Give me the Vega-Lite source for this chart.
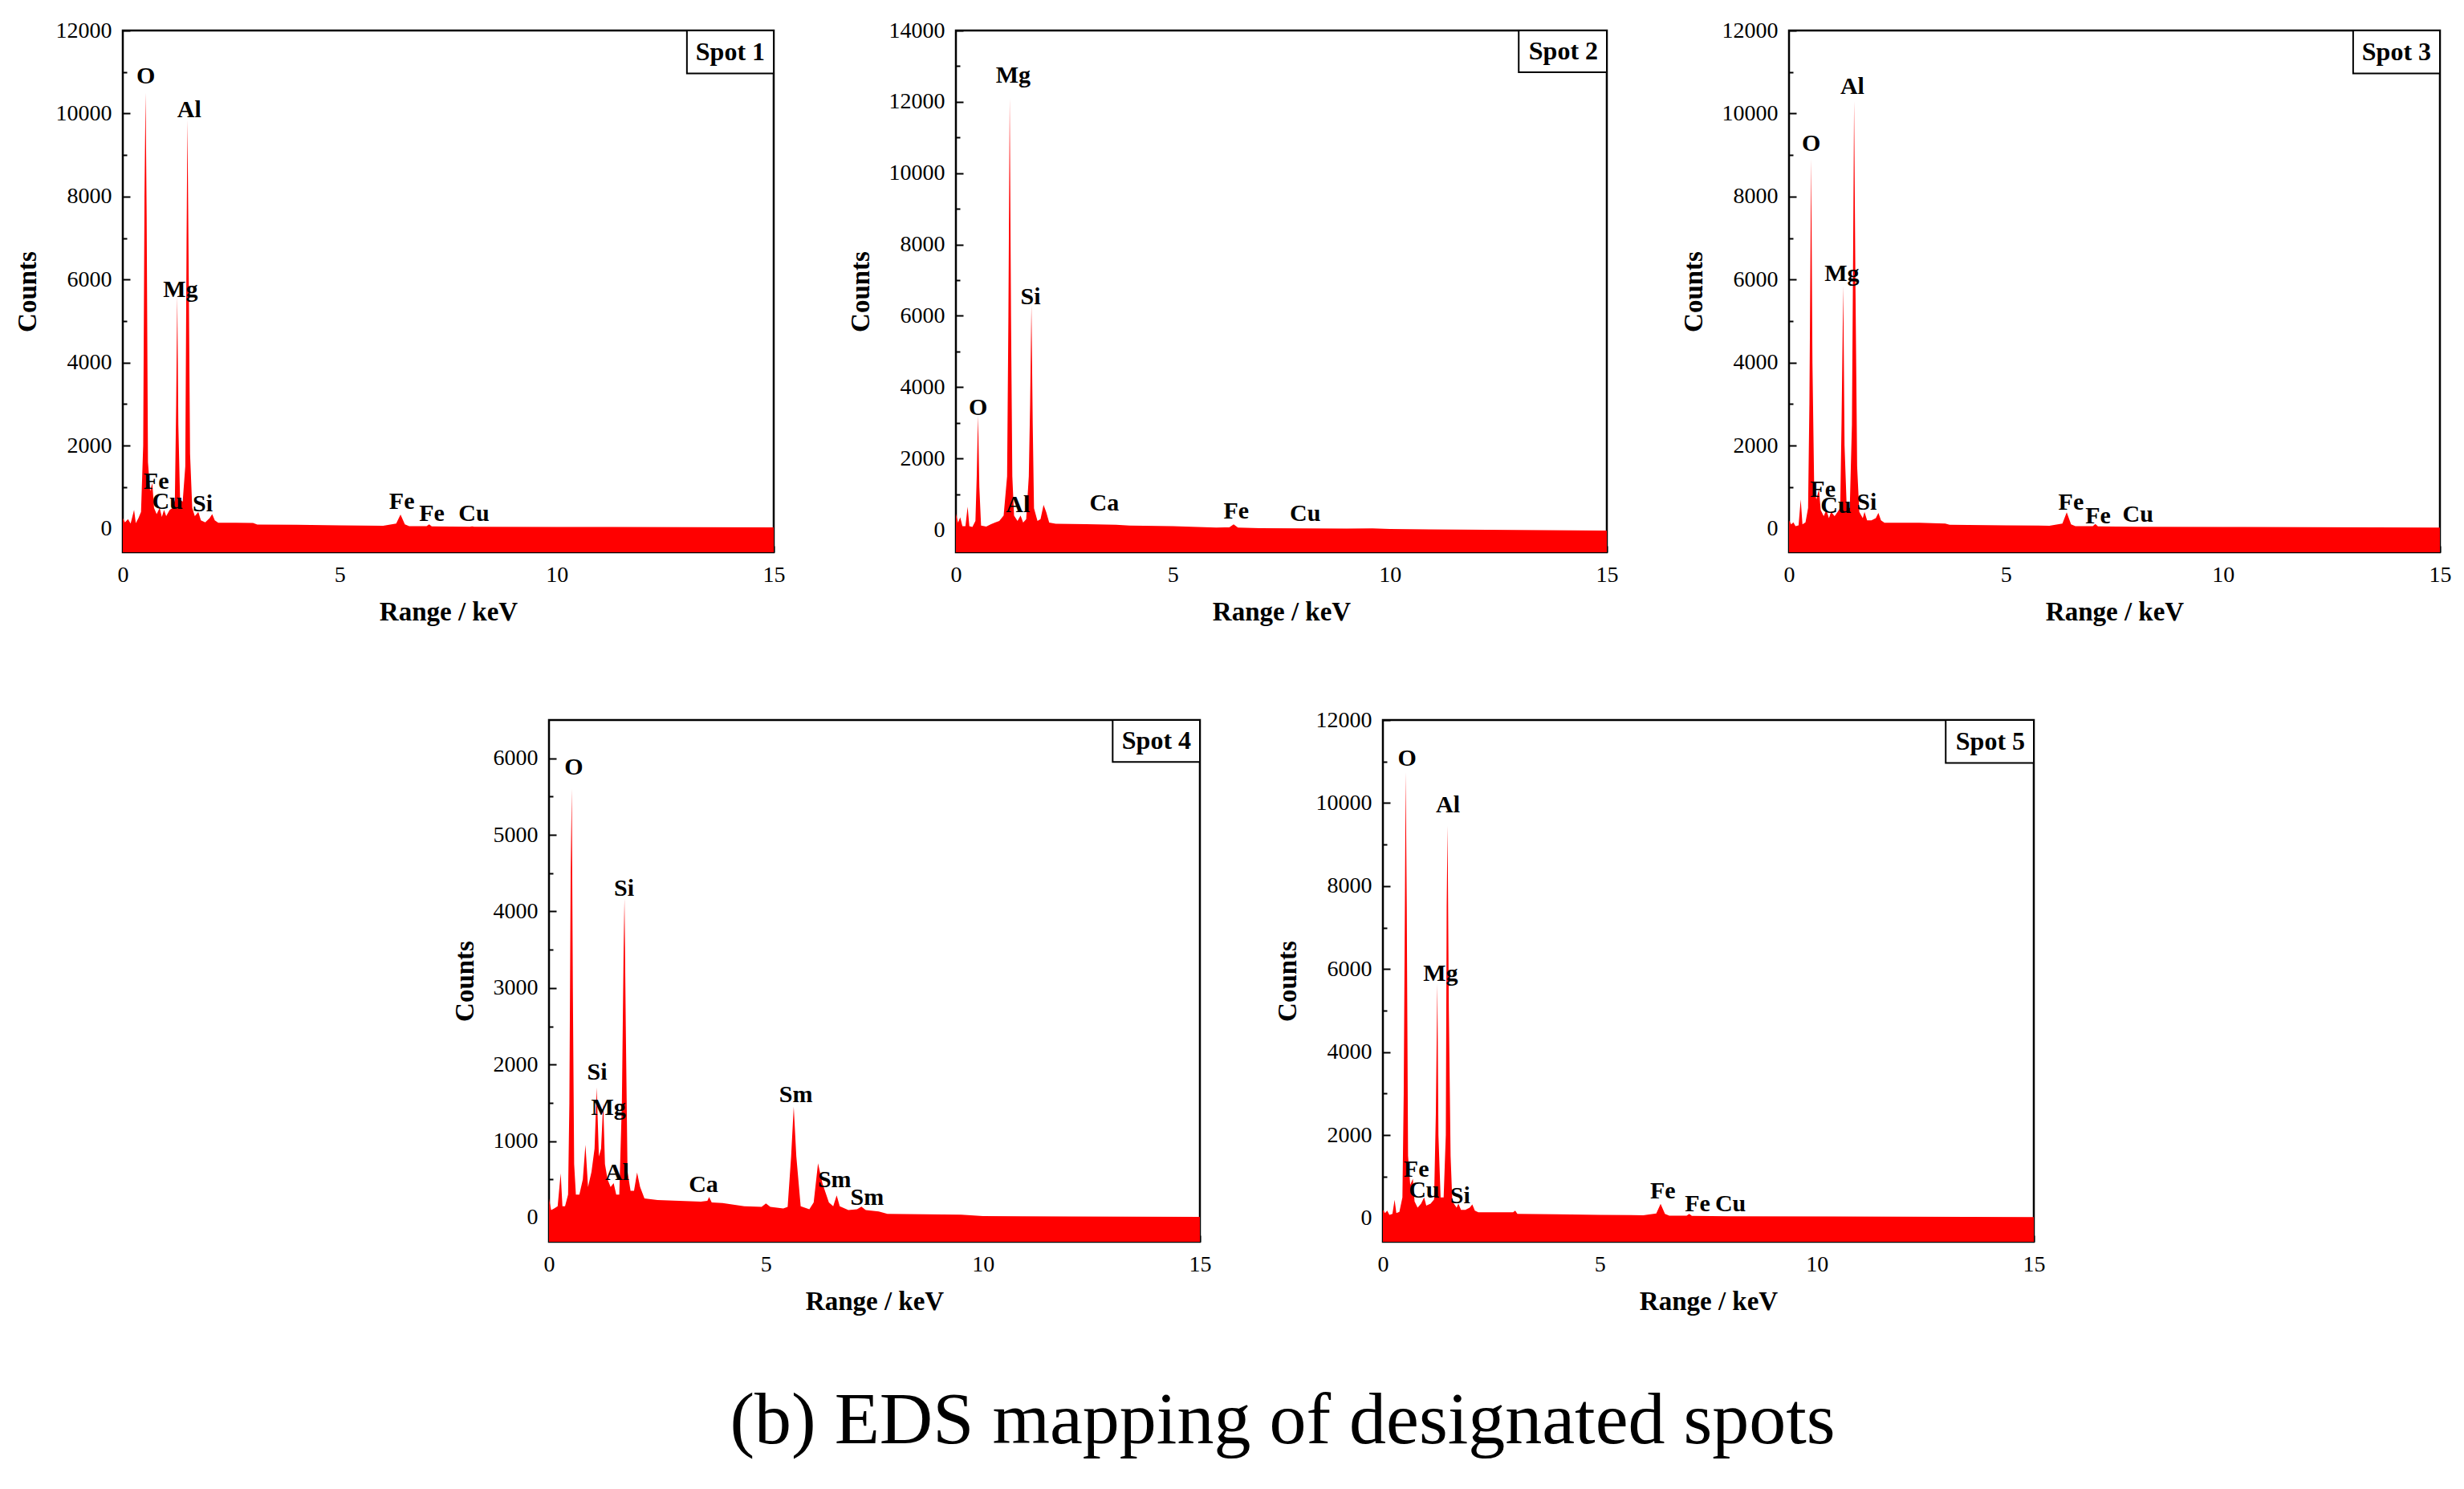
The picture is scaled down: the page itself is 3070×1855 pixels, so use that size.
{
"$schema": "https://vega.github.io/schema/vega-lite/v6.json",
"background": "white",
"padding": {"left": 16, "top": 22, "right": 10, "bottom": 10},
"autosize": {"type": "pad"},
"config": {
  "view": {"stroke": "black", "strokeWidth": 2.5},
  "axis": {"labelFont": "Liberation Serif", "labelFontSize": 28, "labelColor": "black", "titleFont": "Liberation Serif", "titleFontSize": 33, "titleFontWeight": "bold", "titleColor": "black", "grid": false, "domain": false, "tickColor": "black", "tickWidth": 2},
  "text": {"font": "Liberation Serif", "fontWeight": "bold", "color": "black", "fontSize": 30}
},
"title": {"text": "(b) EDS mapping of designated spots", "orient": "bottom", "anchor": "middle", "font": "Liberation Serif", "fontSize": 92, "fontWeight": "normal", "color": "black", "offset": 86, "dx": 62},
"datasets": {
"spectra": [
{"spot":1,"keV":0,"counts":250},{"spot":1,"keV":0.05,"counts":150},{"spot":1,"keV":0.12,"counts":230},{"spot":1,"keV":0.18,"counts":120},{"spot":1,"keV":0.26,"counts":450},{"spot":1,"keV":0.3,"counts":130},{"spot":1,"keV":0.36,"counts":250},{"spot":1,"keV":0.42,"counts":400},{"spot":1,"keV":0.47,"counts":2000},{"spot":1,"keV":0.5,"counts":8000},{"spot":1,"keV":0.525,"counts":10500},{"spot":1,"keV":0.55,"counts":7500},{"spot":1,"keV":0.58,"counts":1600},{"spot":1,"keV":0.63,"counts":900},{"spot":1,"keV":0.68,"counts":1100},{"spot":1,"keV":0.72,"counts":500},{"spot":1,"keV":0.78,"counts":350},{"spot":1,"keV":0.85,"counts":500},{"spot":1,"keV":0.9,"counts":280},{"spot":1,"keV":0.95,"counts":450},{"spot":1,"keV":1.0,"counts":300},{"spot":1,"keV":1.08,"counts":450},{"spot":1,"keV":1.15,"counts":500},{"spot":1,"keV":1.2,"counts":700},{"spot":1,"keV":1.23,"counts":3000},{"spot":1,"keV":1.255,"counts":5600},{"spot":1,"keV":1.28,"counts":2500},{"spot":1,"keV":1.32,"counts":700},{"spot":1,"keV":1.38,"counts":650},{"spot":1,"keV":1.44,"counts":1500},{"spot":1,"keV":1.47,"counts":7000},{"spot":1,"keV":1.49,"counts":9850},{"spot":1,"keV":1.52,"counts":6000},{"spot":1,"keV":1.55,"counts":1800},{"spot":1,"keV":1.6,"counts":500},{"spot":1,"keV":1.66,"counts":300},{"spot":1,"keV":1.74,"counts":400},{"spot":1,"keV":1.8,"counts":200},{"spot":1,"keV":1.9,"counts":150},{"spot":1,"keV":2.0,"counts":250},{"spot":1,"keV":2.06,"counts":350},{"spot":1,"keV":2.12,"counts":200},{"spot":1,"keV":2.2,"counts":140},{"spot":1,"keV":2.6,"counts":140},{"spot":1,"keV":3.0,"counts":135},{"spot":1,"keV":3.1,"counts":95},{"spot":1,"keV":4.0,"counts":90},{"spot":1,"keV":5.0,"counts":80},{"spot":1,"keV":6.0,"counts":70},{"spot":1,"keV":6.3,"counts":120},{"spot":1,"keV":6.4,"counts":340},{"spot":1,"keV":6.5,"counts":100},{"spot":1,"keV":6.6,"counts":60},{"spot":1,"keV":7.0,"counts":60},{"spot":1,"keV":7.06,"counts":100},{"spot":1,"keV":7.12,"counts":55},{"spot":1,"keV":8.0,"counts":45},{"spot":1,"keV":8.05,"counts":55},{"spot":1,"keV":8.1,"counts":45},{"spot":1,"keV":10,"counts":40},{"spot":1,"keV":15,"counts":30},
{"spot":2,"keV":0,"counts":450},{"spot":2,"keV":0.05,"counts":200},{"spot":2,"keV":0.1,"counts":350},{"spot":2,"keV":0.15,"counts":100},{"spot":2,"keV":0.22,"counts":100},{"spot":2,"keV":0.27,"counts":650},{"spot":2,"keV":0.31,"counts":100},{"spot":2,"keV":0.38,"counts":80},{"spot":2,"keV":0.45,"counts":250},{"spot":2,"keV":0.48,"counts":1500},{"spot":2,"keV":0.51,"counts":3200},{"spot":2,"keV":0.54,"counts":1200},{"spot":2,"keV":0.58,"counts":120},{"spot":2,"keV":0.7,"counts":90},{"spot":2,"keV":0.8,"counts":150},{"spot":2,"keV":0.9,"counts":200},{"spot":2,"keV":1.0,"counts":250},{"spot":2,"keV":1.1,"counts":400},{"spot":2,"keV":1.18,"counts":1500},{"spot":2,"keV":1.21,"counts":6000},{"spot":2,"keV":1.24,"counts":12100},{"spot":2,"keV":1.27,"counts":6000},{"spot":2,"keV":1.3,"counts":1500},{"spot":2,"keV":1.34,"counts":400},{"spot":2,"keV":1.42,"counts":250},{"spot":2,"keV":1.49,"counts":400},{"spot":2,"keV":1.55,"counts":200},{"spot":2,"keV":1.62,"counts":300},{"spot":2,"keV":1.68,"counts":1500},{"spot":2,"keV":1.71,"counts":3500},{"spot":2,"keV":1.74,"counts":6300},{"spot":2,"keV":1.77,"counts":3000},{"spot":2,"keV":1.8,"counts":600},{"spot":2,"keV":1.88,"counts":250},{"spot":2,"keV":1.95,"counts":300},{"spot":2,"keV":2.02,"counts":700},{"spot":2,"keV":2.08,"counts":500},{"spot":2,"keV":2.15,"counts":200},{"spot":2,"keV":2.3,"counts":170},{"spot":2,"keV":3.0,"counts":160},{"spot":2,"keV":3.69,"counts":140},{"spot":2,"keV":4.0,"counts":120},{"spot":2,"keV":5.0,"counts":100},{"spot":2,"keV":6.0,"counts":60},{"spot":2,"keV":6.3,"counts":70},{"spot":2,"keV":6.4,"counts":150},{"spot":2,"keV":6.5,"counts":60},{"spot":2,"keV":7.0,"counts":45},{"spot":2,"keV":8.0,"counts":40},{"spot":2,"keV":9.0,"counts":35},{"spot":2,"keV":9.6,"counts":40},{"spot":2,"keV":10.0,"counts":20},{"spot":2,"keV":15,"counts":-20},
{"spot":3,"keV":0,"counts":200},{"spot":3,"keV":0.05,"counts":100},{"spot":3,"keV":0.1,"counts":150},{"spot":3,"keV":0.15,"counts":60},{"spot":3,"keV":0.22,"counts":80},{"spot":3,"keV":0.27,"counts":700},{"spot":3,"keV":0.31,"counts":100},{"spot":3,"keV":0.38,"counts":150},{"spot":3,"keV":0.44,"counts":500},{"spot":3,"keV":0.47,"counts":3000},{"spot":3,"keV":0.51,"counts":8900},{"spot":3,"keV":0.54,"counts":4000},{"spot":3,"keV":0.58,"counts":1000},{"spot":3,"keV":0.63,"counts":700},{"spot":3,"keV":0.69,"counts":950},{"spot":3,"keV":0.73,"counts":450},{"spot":3,"keV":0.8,"counts":300},{"spot":3,"keV":0.86,"counts":450},{"spot":3,"keV":0.92,"counts":250},{"spot":3,"keV":0.97,"counts":400},{"spot":3,"keV":1.05,"counts":300},{"spot":3,"keV":1.12,"counts":400},{"spot":3,"keV":1.18,"counts":500},{"spot":3,"keV":1.21,"counts":2500},{"spot":3,"keV":1.25,"counts":5850},{"spot":3,"keV":1.28,"counts":2000},{"spot":3,"keV":1.33,"counts":500},{"spot":3,"keV":1.4,"counts":500},{"spot":3,"keV":1.45,"counts":2500},{"spot":3,"keV":1.48,"counts":7000},{"spot":3,"keV":1.5,"counts":10300},{"spot":3,"keV":1.53,"counts":6000},{"spot":3,"keV":1.57,"counts":1500},{"spot":3,"keV":1.62,"counts":400},{"spot":3,"keV":1.7,"counts":250},{"spot":3,"keV":1.74,"counts":400},{"spot":3,"keV":1.8,"counts":200},{"spot":3,"keV":1.9,"counts":200},{"spot":3,"keV":2.0,"counts":250},{"spot":3,"keV":2.06,"counts":380},{"spot":3,"keV":2.12,"counts":200},{"spot":3,"keV":2.2,"counts":140},{"spot":3,"keV":3.0,"counts":140},{"spot":3,"keV":3.6,"counts":120},{"spot":3,"keV":3.7,"counts":90},{"spot":3,"keV":5.0,"counts":80},{"spot":3,"keV":6.0,"counts":70},{"spot":3,"keV":6.3,"counts":120},{"spot":3,"keV":6.4,"counts":390},{"spot":3,"keV":6.5,"counts":100},{"spot":3,"keV":6.6,"counts":60},{"spot":3,"keV":7.0,"counts":60},{"spot":3,"keV":7.06,"counts":110},{"spot":3,"keV":7.12,"counts":55},{"spot":3,"keV":8.0,"counts":45},{"spot":3,"keV":10,"counts":40},{"spot":3,"keV":15,"counts":25},
{"spot":4,"keV":0,"counts":250},{"spot":4,"keV":0.05,"counts":100},{"spot":4,"keV":0.12,"counts":120},{"spot":4,"keV":0.2,"counts":150},{"spot":4,"keV":0.27,"counts":580},{"spot":4,"keV":0.31,"counts":150},{"spot":4,"keV":0.37,"counts":150},{"spot":4,"keV":0.44,"counts":300},{"spot":4,"keV":0.47,"counts":1500},{"spot":4,"keV":0.5,"counts":4500},{"spot":4,"keV":0.525,"counts":5600},{"spot":4,"keV":0.55,"counts":3000},{"spot":4,"keV":0.58,"counts":700},{"spot":4,"keV":0.62,"counts":300},{"spot":4,"keV":0.7,"counts":300},{"spot":4,"keV":0.78,"counts":500},{"spot":4,"keV":0.84,"counts":950},{"spot":4,"keV":0.9,"counts":400},{"spot":4,"keV":0.98,"counts":600},{"spot":4,"keV":1.05,"counts":900},{"spot":4,"keV":1.1,"counts":1700},{"spot":4,"keV":1.15,"counts":800},{"spot":4,"keV":1.2,"counts":900},{"spot":4,"keV":1.25,"counts":1500},{"spot":4,"keV":1.29,"counts":700},{"spot":4,"keV":1.35,"counts":500},{"spot":4,"keV":1.42,"counts":400},{"spot":4,"keV":1.49,"counts":450},{"spot":4,"keV":1.55,"counts":300},{"spot":4,"keV":1.62,"counts":300},{"spot":4,"keV":1.68,"counts":1500},{"spot":4,"keV":1.72,"counts":3500},{"spot":4,"keV":1.74,"counts":4170},{"spot":4,"keV":1.77,"counts":2500},{"spot":4,"keV":1.81,"counts":600},{"spot":4,"keV":1.88,"counts":350},{"spot":4,"keV":1.96,"counts":350},{"spot":4,"keV":2.03,"counts":590},{"spot":4,"keV":2.1,"counts":400},{"spot":4,"keV":2.2,"counts":250},{"spot":4,"keV":2.5,"counts":230},{"spot":4,"keV":3.0,"counts":220},{"spot":4,"keV":3.5,"counts":210},{"spot":4,"keV":3.65,"counts":220},{"spot":4,"keV":3.69,"counts":270},{"spot":4,"keV":3.75,"counts":200},{"spot":4,"keV":4.0,"counts":190},{"spot":4,"keV":4.5,"counts":150},{"spot":4,"keV":4.9,"counts":140},{"spot":4,"keV":5.0,"counts":185},{"spot":4,"keV":5.1,"counts":140},{"spot":4,"keV":5.4,"counts":120},{"spot":4,"keV":5.5,"counts":140},{"spot":4,"keV":5.58,"counts":800},{"spot":4,"keV":5.64,"counts":1450},{"spot":4,"keV":5.7,"counts":800},{"spot":4,"keV":5.8,"counts":150},{"spot":4,"keV":6.0,"counts":110},{"spot":4,"keV":6.1,"counts":200},{"spot":4,"keV":6.2,"counts":710},{"spot":4,"keV":6.3,"counts":450},{"spot":4,"keV":6.45,"counts":200},{"spot":4,"keV":6.55,"counts":150},{"spot":4,"keV":6.63,"counts":290},{"spot":4,"keV":6.7,"counts":150},{"spot":4,"keV":6.9,"counts":100},{"spot":4,"keV":7.1,"counts":110},{"spot":4,"keV":7.2,"counts":145},{"spot":4,"keV":7.3,"counts":100},{"spot":4,"keV":7.6,"counts":80},{"spot":4,"keV":7.8,"counts":50},{"spot":4,"keV":9.5,"counts":40},{"spot":4,"keV":10.0,"counts":20},{"spot":4,"keV":12,"counts":15},{"spot":4,"keV":15,"counts":10},
{"spot":5,"keV":0,"counts":200},{"spot":5,"keV":0.05,"counts":120},{"spot":5,"keV":0.1,"counts":180},{"spot":5,"keV":0.15,"counts":80},{"spot":5,"keV":0.22,"counts":100},{"spot":5,"keV":0.27,"counts":440},{"spot":5,"keV":0.31,"counts":120},{"spot":5,"keV":0.38,"counts":150},{"spot":5,"keV":0.45,"counts":500},{"spot":5,"keV":0.48,"counts":3000},{"spot":5,"keV":0.51,"counts":8000},{"spot":5,"keV":0.525,"counts":10750},{"spot":5,"keV":0.55,"counts":7500},{"spot":5,"keV":0.58,"counts":1500},{"spot":5,"keV":0.63,"counts":800},{"spot":5,"keV":0.69,"counts":950},{"spot":5,"keV":0.73,"counts":400},{"spot":5,"keV":0.8,"counts":250},{"spot":5,"keV":0.88,"counts":350},{"spot":5,"keV":0.95,"counts":500},{"spot":5,"keV":1.0,"counts":300},{"spot":5,"keV":1.1,"counts":350},{"spot":5,"keV":1.18,"counts":450},{"spot":5,"keV":1.22,"counts":2500},{"spot":5,"keV":1.255,"counts":5650},{"spot":5,"keV":1.28,"counts":2000},{"spot":5,"keV":1.33,"counts":500},{"spot":5,"keV":1.4,"counts":500},{"spot":5,"keV":1.45,"counts":2000},{"spot":5,"keV":1.47,"counts":7500},{"spot":5,"keV":1.49,"counts":9450},{"spot":5,"keV":1.52,"counts":5000},{"spot":5,"keV":1.56,"counts":1500},{"spot":5,"keV":1.6,"counts":400},{"spot":5,"keV":1.7,"counts":250},{"spot":5,"keV":1.74,"counts":350},{"spot":5,"keV":1.8,"counts":200},{"spot":5,"keV":1.9,"counts":200},{"spot":5,"keV":2.0,"counts":250},{"spot":5,"keV":2.06,"counts":330},{"spot":5,"keV":2.12,"counts":180},{"spot":5,"keV":2.2,"counts":140},{"spot":5,"keV":3.0,"counts":140},{"spot":5,"keV":3.05,"counts":180},{"spot":5,"keV":3.1,"counts":100},{"spot":5,"keV":4.0,"counts":90},{"spot":5,"keV":5.0,"counts":80},{"spot":5,"keV":6.0,"counts":70},{"spot":5,"keV":6.3,"counts":110},{"spot":5,"keV":6.4,"counts":345},{"spot":5,"keV":6.5,"counts":100},{"spot":5,"keV":6.6,"counts":60},{"spot":5,"keV":7.0,"counts":60},{"spot":5,"keV":7.06,"counts":100},{"spot":5,"keV":7.12,"counts":55},{"spot":5,"keV":8.0,"counts":45},{"spot":5,"keV":15,"counts":25}
],
"labels": [
{"spot":1,"el":"O","keV":0.53,"counts":10900},{"spot":1,"el":"Al","keV":1.53,"counts":10080},{"spot":1,"el":"Mg","keV":1.33,"counts":5760},{"spot":1,"el":"Fe","keV":0.77,"counts":1130},{"spot":1,"el":"Cu","keV":1.03,"counts":640},{"spot":1,"el":"Si","keV":1.84,"counts":590},{"spot":1,"el":"Fe","keV":6.43,"counts":640},{"spot":1,"el":"Fe","keV":7.12,"counts":365},{"spot":1,"el":"Cu","keV":8.09,"counts":365},
{"spot":2,"el":"Mg","keV":1.32,"counts":12740},{"spot":2,"el":"Si","keV":1.72,"counts":6520},{"spot":2,"el":"O","keV":0.51,"counts":3420},{"spot":2,"el":"Al","keV":1.43,"counts":690},{"spot":2,"el":"Ca","keV":3.42,"counts":750},{"spot":2,"el":"Fe","keV":6.46,"counts":520},{"spot":2,"el":"Cu","keV":8.05,"counts":440},
{"spot":3,"el":"Al","keV":1.46,"counts":10640},{"spot":3,"el":"O","keV":0.51,"counts":9280},{"spot":3,"el":"Mg","keV":1.22,"counts":6140},{"spot":3,"el":"Fe","keV":0.78,"counts":940},{"spot":3,"el":"Cu","keV":1.08,"counts":560},{"spot":3,"el":"Si","keV":1.79,"counts":620},{"spot":3,"el":"Fe","keV":6.5,"counts":620},{"spot":3,"el":"Fe","keV":7.12,"counts":300},{"spot":3,"el":"Cu","keV":8.04,"counts":345},
{"spot":4,"el":"O","keV":0.57,"counts":5880},{"spot":4,"el":"Si","keV":1.73,"counts":4300},{"spot":4,"el":"Si","keV":1.11,"counts":1900},{"spot":4,"el":"Mg","keV":1.37,"counts":1440},{"spot":4,"el":"Al","keV":1.57,"counts":590},{"spot":4,"el":"Ca","keV":3.56,"counts":430},{"spot":4,"el":"Sm","keV":5.69,"counts":1600},{"spot":4,"el":"Sm","keV":6.58,"counts":490},{"spot":4,"el":"Sm","keV":7.33,"counts":260},
{"spot":5,"el":"O","keV":0.56,"counts":11080},{"spot":5,"el":"Al","keV":1.5,"counts":9950},{"spot":5,"el":"Mg","keV":1.33,"counts":5880},{"spot":5,"el":"Fe","keV":0.77,"counts":1180},{"spot":5,"el":"Cu","keV":0.95,"counts":660},{"spot":5,"el":"Si","keV":1.78,"counts":540},{"spot":5,"el":"Fe","keV":6.45,"counts":640},{"spot":5,"el":"Fe","keV":7.25,"counts":345},{"spot":5,"el":"Cu","keV":8.01,"counts":345}
],
"spots": [
{"spot":1,"name":"Spot 1","x1":13.0,"x2":15,"yb":10966,"yt":12000,"keV":14.0,"counts":11480},
{"spot":2,"name":"Spot 2","x1":12.97,"x2":15,"yb":12830,"yt":14000,"keV":14.0,"counts":13410},
{"spot":3,"name":"Spot 3","x1":13.0,"x2":15,"yb":10966,"yt":12000,"keV":14.0,"counts":11480},
{"spot":4,"name":"Spot 4","x1":12.99,"x2":15,"yb":5952,"yt":6500,"keV":14.0,"counts":6225},
{"spot":5,"name":"Spot 5","x1":12.97,"x2":15,"yb":10966,"yt":12000,"keV":14.0,"counts":11480}
]
},
"spacing": 100,
"vconcat": [
{"bounds": "flush", "spacing": 227, "hconcat": [
 {"width": 811, "height": 650, "layer": [
  {"data": {"name": "spectra"}, "transform": [{"filter": "datum.spot === 1"}], "mark": {"type": "area", "color": "#ff0000", "clip": true},
   "encoding": {"x": {"field": "keV", "type": "quantitative", "scale": {"domain": [0, 15], "nice": false}, "axis": {"title": "Range / keV", "values": [0, 5, 10, 15], "format": "d", "labelFlush": false, "tickSize": -8, "labelPadding": 22, "titlePadding": 16}},
    "y": {"field": "counts", "type": "quantitative", "scale": {"domain": [-570, 12000], "nice": false, "zero": false}, "axis": {"title": "Counts", "values": [0,1000,2000,3000,4000,5000,6000,7000,8000,9000,10000,11000,12000], "format": "d", "labelExpr": "datum.value % 2000 === 0 ? datum.label : ''", "tickSize": {"condition": {"test": "datum.value % 2000 === 0", "value": -9}, "value": -5}, "labelPadding": 23, "titlePadding": 18}},
    "y2": {"datum": -570}}},
  {"data": {"name": "spots"}, "transform": [{"filter": "datum.spot === 1"}], "mark": {"type": "rect", "fill": "white", "stroke": "black", "strokeWidth": 2},
   "encoding": {"x": {"field": "x1", "type": "quantitative"}, "x2": {"field": "x2"}, "y": {"field": "yb", "type": "quantitative"}, "y2": {"field": "yt"}}},
  {"data": {"name": "spots"}, "transform": [{"filter": "datum.spot === 1"}], "mark": {"type": "text", "fontSize": 32},
   "encoding": {"x": {"field": "keV", "type": "quantitative"}, "y": {"field": "counts", "type": "quantitative"}, "text": {"field": "name"}}},
  {"data": {"name": "labels"}, "transform": [{"filter": "datum.spot === 1"}], "mark": {"type": "text", "fontSize": 30},
   "encoding": {"x": {"field": "keV", "type": "quantitative"}, "y": {"field": "counts", "type": "quantitative"}, "text": {"field": "el"}}}
 ]},
 {"width": 811, "height": 650, "layer": [
  {"data": {"name": "spectra"}, "transform": [{"filter": "datum.spot === 2"}], "mark": {"type": "area", "color": "#ff0000", "clip": true},
   "encoding": {"x": {"field": "keV", "type": "quantitative", "scale": {"domain": [0, 15], "nice": false}, "axis": {"title": "Range / keV", "values": [0, 5, 10, 15], "format": "d", "labelFlush": false, "tickSize": -8, "labelPadding": 22, "titlePadding": 16}},
    "y": {"field": "counts", "type": "quantitative", "scale": {"domain": [-630, 14000], "nice": false, "zero": false}, "axis": {"title": "Counts", "values": [0,1000,2000,3000,4000,5000,6000,7000,8000,9000,10000,11000,12000,13000,14000], "format": "d", "labelExpr": "datum.value % 2000 === 0 ? datum.label : ''", "tickSize": {"condition": {"test": "datum.value % 2000 === 0", "value": -9}, "value": -5}, "labelPadding": 23, "titlePadding": 18}},
    "y2": {"datum": -630}}},
  {"data": {"name": "spots"}, "transform": [{"filter": "datum.spot === 2"}], "mark": {"type": "rect", "fill": "white", "stroke": "black", "strokeWidth": 2},
   "encoding": {"x": {"field": "x1", "type": "quantitative"}, "x2": {"field": "x2"}, "y": {"field": "yb", "type": "quantitative"}, "y2": {"field": "yt"}}},
  {"data": {"name": "spots"}, "transform": [{"filter": "datum.spot === 2"}], "mark": {"type": "text", "fontSize": 32},
   "encoding": {"x": {"field": "keV", "type": "quantitative"}, "y": {"field": "counts", "type": "quantitative"}, "text": {"field": "name"}}},
  {"data": {"name": "labels"}, "transform": [{"filter": "datum.spot === 2"}], "mark": {"type": "text", "fontSize": 30},
   "encoding": {"x": {"field": "keV", "type": "quantitative"}, "y": {"field": "counts", "type": "quantitative"}, "text": {"field": "el"}}}
 ]},
 {"width": 811, "height": 650, "layer": [
  {"data": {"name": "spectra"}, "transform": [{"filter": "datum.spot === 3"}], "mark": {"type": "area", "color": "#ff0000", "clip": true},
   "encoding": {"x": {"field": "keV", "type": "quantitative", "scale": {"domain": [0, 15], "nice": false}, "axis": {"title": "Range / keV", "values": [0, 5, 10, 15], "format": "d", "labelFlush": false, "tickSize": -8, "labelPadding": 22, "titlePadding": 16}},
    "y": {"field": "counts", "type": "quantitative", "scale": {"domain": [-570, 12000], "nice": false, "zero": false}, "axis": {"title": "Counts", "values": [0,1000,2000,3000,4000,5000,6000,7000,8000,9000,10000,11000,12000], "format": "d", "labelExpr": "datum.value % 2000 === 0 ? datum.label : ''", "tickSize": {"condition": {"test": "datum.value % 2000 === 0", "value": -9}, "value": -5}, "labelPadding": 23, "titlePadding": 18}},
    "y2": {"datum": -570}}},
  {"data": {"name": "spots"}, "transform": [{"filter": "datum.spot === 3"}], "mark": {"type": "rect", "fill": "white", "stroke": "black", "strokeWidth": 2},
   "encoding": {"x": {"field": "x1", "type": "quantitative"}, "x2": {"field": "x2"}, "y": {"field": "yb", "type": "quantitative"}, "y2": {"field": "yt"}}},
  {"data": {"name": "spots"}, "transform": [{"filter": "datum.spot === 3"}], "mark": {"type": "text", "fontSize": 32},
   "encoding": {"x": {"field": "keV", "type": "quantitative"}, "y": {"field": "counts", "type": "quantitative"}, "text": {"field": "name"}}},
  {"data": {"name": "labels"}, "transform": [{"filter": "datum.spot === 3"}], "mark": {"type": "text", "fontSize": 30},
   "encoding": {"x": {"field": "keV", "type": "quantitative"}, "y": {"field": "counts", "type": "quantitative"}, "text": {"field": "el"}}}
 ]}
]},
{"bounds": "flush", "spacing": 228, "hconcat": [
 {"width": 303, "height": 650, "view": {"stroke": null}, "data": {"values": []}, "mark": "point", "encoding": {}},
 {"width": 811, "height": 650, "layer": [
  {"data": {"name": "spectra"}, "transform": [{"filter": "datum.spot === 4"}], "mark": {"type": "area", "color": "#ff0000", "clip": true},
   "encoding": {"x": {"field": "keV", "type": "quantitative", "scale": {"domain": [0, 15], "nice": false}, "axis": {"title": "Range / keV", "values": [0, 5, 10, 15], "format": "d", "labelFlush": false, "tickSize": -8, "labelPadding": 22, "titlePadding": 16}},
    "y": {"field": "counts", "type": "quantitative", "scale": {"domain": [-315, 6500], "nice": false, "zero": false}, "axis": {"title": "Counts", "values": [0,500,1000,1500,2000,2500,3000,3500,4000,4500,5000,5500,6000], "format": "d", "labelExpr": "datum.value % 1000 === 0 ? datum.label : ''", "tickSize": {"condition": {"test": "datum.value % 1000 === 0", "value": -9}, "value": -5}, "labelPadding": 23, "titlePadding": 18}},
    "y2": {"datum": -315}}},
  {"data": {"name": "spots"}, "transform": [{"filter": "datum.spot === 4"}], "mark": {"type": "rect", "fill": "white", "stroke": "black", "strokeWidth": 2},
   "encoding": {"x": {"field": "x1", "type": "quantitative"}, "x2": {"field": "x2"}, "y": {"field": "yb", "type": "quantitative"}, "y2": {"field": "yt"}}},
  {"data": {"name": "spots"}, "transform": [{"filter": "datum.spot === 4"}], "mark": {"type": "text", "fontSize": 32},
   "encoding": {"x": {"field": "keV", "type": "quantitative"}, "y": {"field": "counts", "type": "quantitative"}, "text": {"field": "name"}}},
  {"data": {"name": "labels"}, "transform": [{"filter": "datum.spot === 4"}], "mark": {"type": "text", "fontSize": 30},
   "encoding": {"x": {"field": "keV", "type": "quantitative"}, "y": {"field": "counts", "type": "quantitative"}, "text": {"field": "el"}}}
 ]},
 {"width": 811, "height": 650, "layer": [
  {"data": {"name": "spectra"}, "transform": [{"filter": "datum.spot === 5"}], "mark": {"type": "area", "color": "#ff0000", "clip": true},
   "encoding": {"x": {"field": "keV", "type": "quantitative", "scale": {"domain": [0, 15], "nice": false}, "axis": {"title": "Range / keV", "values": [0, 5, 10, 15], "format": "d", "labelFlush": false, "tickSize": -8, "labelPadding": 22, "titlePadding": 16}},
    "y": {"field": "counts", "type": "quantitative", "scale": {"domain": [-570, 12000], "nice": false, "zero": false}, "axis": {"title": "Counts", "values": [0,1000,2000,3000,4000,5000,6000,7000,8000,9000,10000,11000,12000], "format": "d", "labelExpr": "datum.value % 2000 === 0 ? datum.label : ''", "tickSize": {"condition": {"test": "datum.value % 2000 === 0", "value": -9}, "value": -5}, "labelPadding": 23, "titlePadding": 18}},
    "y2": {"datum": -570}}},
  {"data": {"name": "spots"}, "transform": [{"filter": "datum.spot === 5"}], "mark": {"type": "rect", "fill": "white", "stroke": "black", "strokeWidth": 2},
   "encoding": {"x": {"field": "x1", "type": "quantitative"}, "x2": {"field": "x2"}, "y": {"field": "yb", "type": "quantitative"}, "y2": {"field": "yt"}}},
  {"data": {"name": "spots"}, "transform": [{"filter": "datum.spot === 5"}], "mark": {"type": "text", "fontSize": 32},
   "encoding": {"x": {"field": "keV", "type": "quantitative"}, "y": {"field": "counts", "type": "quantitative"}, "text": {"field": "name"}}},
  {"data": {"name": "labels"}, "transform": [{"filter": "datum.spot === 5"}], "mark": {"type": "text", "fontSize": 30},
   "encoding": {"x": {"field": "keV", "type": "quantitative"}, "y": {"field": "counts", "type": "quantitative"}, "text": {"field": "el"}}}
 ]}
]}
]
}
